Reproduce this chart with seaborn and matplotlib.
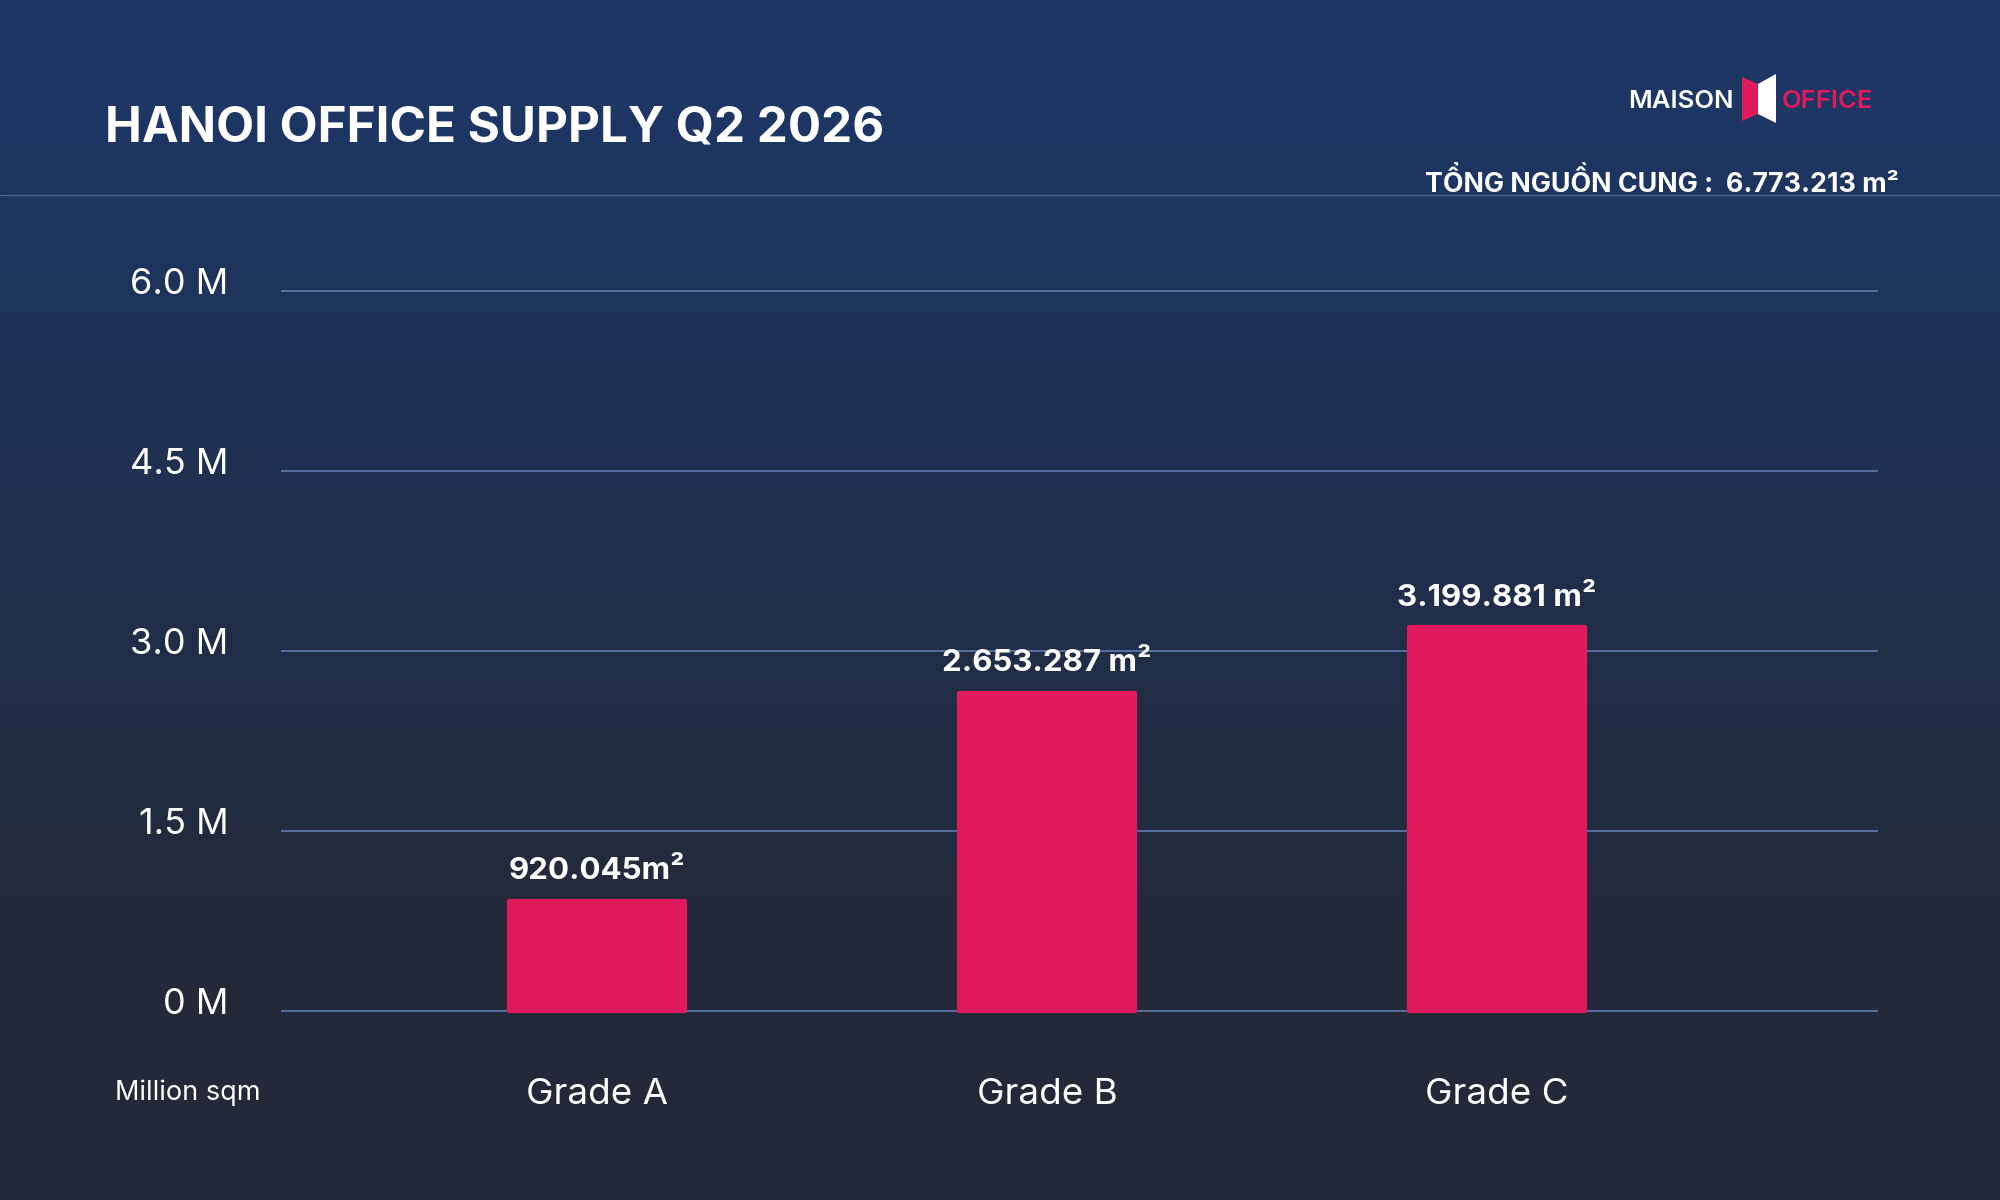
import numpy as np
import pandas as pd
import seaborn as sns
import matplotlib.pyplot as plt
import matplotlib.transforms as mtransforms
from matplotlib.patches import Polygon
from matplotlib.lines import Line2D

# data
grades = ["Grade A", "Grade B", "Grade C"]
supply_m = [0.920045, 2.653287, 3.199881]
value_labels = ["920.045m²", "2.653.287 m²", "3.199.881 m²"]
y_ticks = [0, 1.5, 3.0, 4.5, 6.0]
y_tick_labels = ["0 M", "1.5 M", "3.0 M", "4.5 M", "6.0 M"]
title = "HANOI OFFICE SUPPLY Q2 2026"
total_label = "TỔNG NGUỒN CUNG :  6.773.213 m²"
unit_label = "Million sqm"

df = pd.DataFrame({"grade": grades, "supply": supply_m})

sns.set_theme(style="white")
plt.rcParams["font.family"] = ["Inter", "DejaVu Sans"]

W, H = 2000, 1200
PINK = "#e1195d"
fig = plt.figure(figsize=(20, 12), dpi=100)


def px(x, y):
    return x / W, 1 - y / H


# background gradient: blue at top fading to dark slate
bg = fig.add_axes([0, 0, 1, 1], zorder=0)
t = np.linspace(0, 1, 600)[:, None]
top = np.array([29, 54, 99]) / 255
bot = np.array([35, 41, 56]) / 255
w = np.clip((t - 0.1) / 0.7, 0, 1)
grad = top * (1 - w[..., None]) + bot * w[..., None]
bg.imshow(grad, aspect="auto", extent=[0, 1, 0, 1])
bg.axis("off")

# header separator
fig.add_artist(Line2D([0, 1], [px(0, 195)[1]] * 2, transform=fig.transFigure,
                      color="#5a6f96", lw=1.0, alpha=0.8))

# main chart
ax = fig.add_axes([0.1405, 0.1545, 0.7985, 0.606], zorder=2)
ax.patch.set_alpha(0)
sns.barplot(data=df, x="grade", y="supply", color=PINK, width=0.39,
            saturation=1, ax=ax, zorder=3, edgecolor=PINK, linewidth=3)
for bar in ax.patches:
    bar.set_joinstyle("round")
ax.set_xlim(-0.702, 2.847)
ax.set_ylim(-0.03, 6.03)
ax.set_axisbelow(True)
ax.grid(axis="y", color="#5670a0", lw=1.4)
ax.grid(axis="x", visible=False)
for s in ax.spines.values():
    s.set_visible(False)
ax.set_xlabel("")
ax.set_ylabel("")

ax.set_yticks(y_ticks, y_tick_labels)
ax.tick_params(axis="y", length=0, pad=38, labelsize=26, labelcolor="white")
ax.tick_params(axis="x", length=0, pad=46, labelsize=26.5, labelcolor="white")
shift = mtransforms.ScaledTranslation(0, 0.1, fig.dpi_scale_trans)
for lab in ax.get_yticklabels():
    lab.set_transform(lab.get_transform() + shift)

ax.bar_label(ax.containers[0], labels=value_labels, padding=11,
             fontsize=22.5, fontweight="bold", color="white")

fig.text(*px(188, 1093), unit_label, ha="center", va="center",
         fontsize=19.5, color="white")

# titles
fig.text(*px(105, 141), title, ha="left", va="baseline", fontsize=35.5,
         fontweight="bold", color="white")
fig.text(*px(1899, 192), total_label, ha="right", va="baseline",
         fontsize=19.3, fontweight="bold", color="white")

# logo
fig.text(*px(1628, 108), "MAISON", ha="left", va="baseline", fontsize=18.5,
         fontweight="semibold", color="white")
fig.text(*px(1782, 108), "OFFICE", ha="left", va="baseline", fontsize=18.5,
         fontweight="semibold", color=PINK)
pink_door = [px(1742, 77), px(1758, 84), px(1758, 114), px(1742, 121)]
white_door = [px(1758, 84), px(1776, 74), px(1776, 123), px(1758, 114)]
fig.add_artist(Polygon(pink_door, closed=True, transform=fig.transFigure,
                       color=PINK, lw=0))
fig.add_artist(Polygon(white_door, closed=True, transform=fig.transFigure,
                       color="white", lw=0))

fig.savefig("out.png", dpi=100)
